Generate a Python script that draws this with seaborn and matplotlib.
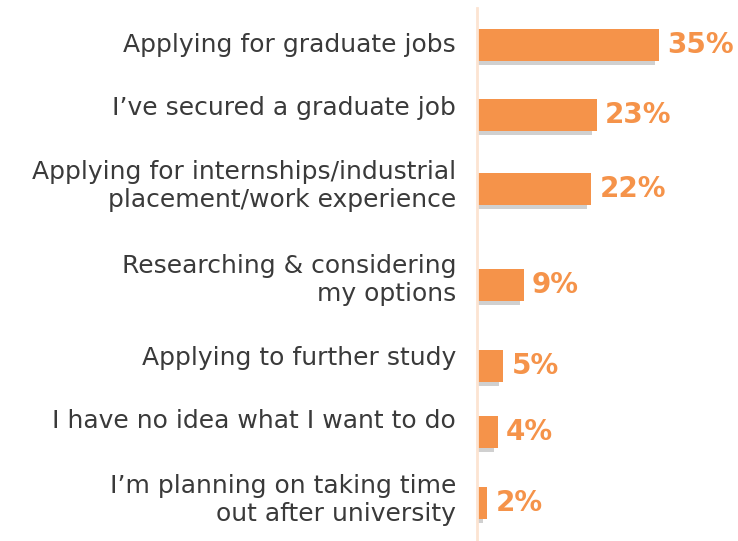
import matplotlib
matplotlib.use("Agg")
import matplotlib.pyplot as plt
import matplotlib.patheffects as pe
import seaborn as sns
import pandas as pd

categories = [
    "Applying for graduate jobs",
    "I\u2019ve secured a graduate job",
    "Applying for internships/industrial\nplacement/work experience",
    "Researching & considering\nmy options",
    "Applying to further study",
    "I have no idea what I want to do",
    "I\u2019m planning on taking time\nout after university",
]
values = [35, 23, 22, 9, 5, 4, 2]
value_labels = ["35%", "23%", "22%", "9%", "5%", "4%", "2%"]

# vertical layout (row centres, measured from the top of the canvas)
row_pos = [45, 115, 189, 285, 366, 432, 503]
label_pos = [45, 108, 186, 280, 358, 421, 500]

BAR = "#F5934A"
TEXT = "#3a3a3a"

sns.set_theme(style="white")
plt.rcParams["font.family"] = ["DejaVu Sans"]

df = pd.DataFrame({"cat": categories, "val": values, "pos": row_pos})

fig = plt.figure(figsize=(7.38, 5.41), dpi=100)
ax = fig.add_axes([477 / 738, 0, 1 - 477 / 738, 533 / 541])

# native scale: width is a fraction of the smallest gap between rows (66)
sns.barplot(data=df, x="val", y="pos", orient="h", native_scale=True,
            color=BAR, saturation=1, width=32 / 66, ax=ax)

for p in ax.patches:
    p.set_edgecolor("none")
    p.set_path_effects([
        pe.SimplePatchShadow(offset=(-3, -3), shadow_rgbFace="#d0d0d0", alpha=1),
        pe.Normal(),
    ])

ax.set_xlim(0, (738 - 477) / 5.2)
ax.set_ylim(541, 8)

for v, y, t in zip(values, row_pos, value_labels):
    ax.text(v + 1.6, y, t, color=BAR, fontsize=20, fontweight="bold",
            va="center", ha="left")

ax.set_yticks([])
ax.set_xticks([])
ax.set_xlabel("")
ax.set_ylabel("")
for s in ["top", "right", "bottom"]:
    ax.spines[s].set_visible(False)
ax.spines["left"].set_color("#FCE4D2")
ax.spines["left"].set_linewidth(2)

for c, y in zip(categories, label_pos):
    ax.text(-21 / 5.2, y, c, color=TEXT, fontsize=18, ha="right",
            va="center", linespacing=1.25)

fig.savefig("out.png", dpi=100)
